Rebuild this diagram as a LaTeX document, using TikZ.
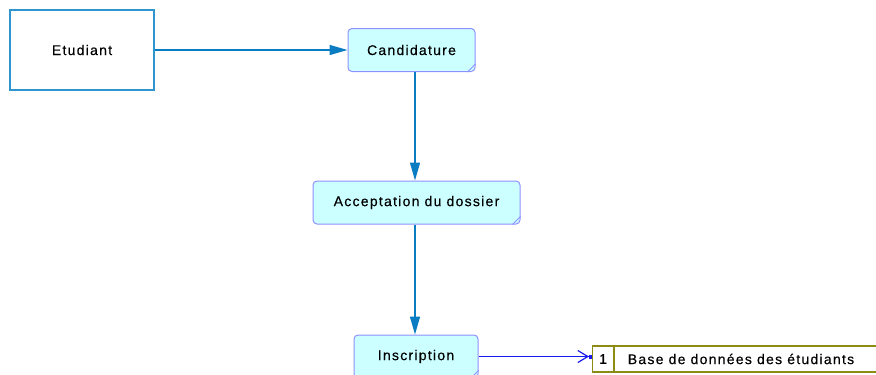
\documentclass[tikz,border=0pt]{standalone}
\usepackage{fontspec}
\setmainfont{Liberation Sans}[LetterSpace=9,FakeBold=0.4]
\usetikzlibrary{arrows.meta}
\definecolor{procfill}{HTML}{CCFFFF}
\definecolor{procdraw}{HTML}{9090FF}
\definecolor{extdraw}{HTML}{2E95CF}
\definecolor{flowcol}{HTML}{0A7CC2}
\definecolor{dsflow}{HTML}{1A1AF0}
\definecolor{dsdraw}{HTML}{8C8C14}
\tikzset{
  txt/.style={font=\fontsize{14}{16}\selectfont},
  extbox/.style={txt, draw=extdraw, line width=1.4pt, fill=white, minimum width=144pt, minimum height=80pt, inner sep=0pt},
  procbox/.style={txt, draw=procdraw, line width=1pt, fill=procfill, rounded corners=4pt, minimum height=43pt, inner sep=0pt},
  foldline/.style={draw=procdraw, line width=0.8pt},
  flow/.style={draw=flowcol, line width=1.4pt, -{Triangle[length=18pt,width=10pt]}},
  dsarrow/.style={draw=dsflow, line width=1.2pt, -{Straight Barb[length=10pt,width=12pt] Square[length=3pt,width=4pt]}},
  dscell/.style={txt, draw=dsdraw, line width=1.2pt, minimum height=26pt, inner sep=0pt},
}
\begin{document}
\begin{tikzpicture}[x=1pt,y=-1pt]
\useasboundingbox (0,0) rectangle (876,375);
\node[extbox] (etud) at (82,50) {Etudiant};
\node[procbox, minimum width=127pt] (cand) at (411.5,50) {Candidature};
\node[procbox, minimum width=207pt] (acc) at (416.5,202.5) {Acceptation du dossier};
\node[procbox, minimum width=124pt] (insc) at (416,356.5) {Inscription};
\foreach \n in {cand,acc,insc}{
  \draw[foldline] ([xshift=-8pt]\n.south east) -- ([yshift=8pt]\n.south east);
}
\node[dscell, minimum width=21pt, anchor=west] (dsnum) at (592,359) {1};
\node[dscell, minimum width=290pt, anchor=west] (dstxt) at (dsnum.east) {};
\node[txt] (dslabel) at (741,359) {Base de données des étudiants};
\coordinate (c1) at (415,0);
\draw[flow] (etud.east) -- (cand.west);
\draw[flow] (cand.south -| c1) -- (acc.north -| c1);
\draw[flow] (acc.south -| c1) -- (insc.north -| c1);
\draw[dsarrow] (insc.east) -- (dsnum.west |- insc.east);
\end{tikzpicture}
\end{document}
